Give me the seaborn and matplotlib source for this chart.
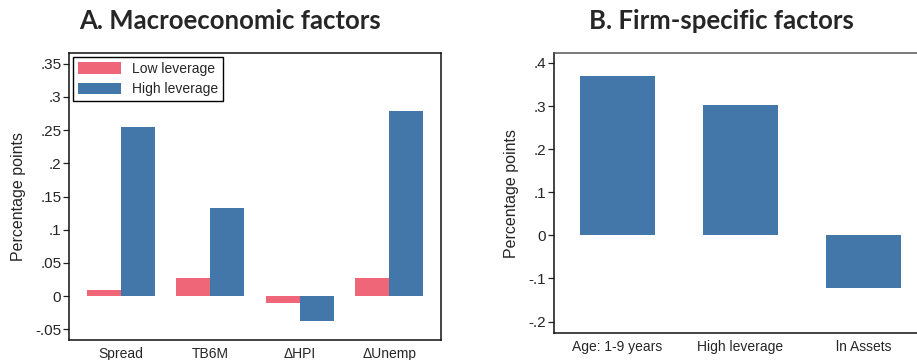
import pandas as pd
import matplotlib.pyplot as plt
import seaborn as sns

# panel A: macro factors, two leverage groups
macro_factors = ['Spread', 'TB6M', 'ΔHPI', 'ΔUnemp']
low_leverage = [0.009, 0.027, -0.010, 0.027]
high_leverage = [0.255, 0.133, -0.037, 0.279]
a_ticks = [-0.05, 0, 0.05, 0.1, 0.15, 0.2, 0.25, 0.3, 0.35]
a_ticklabels = ['-.05', '0', '.05', '.1', '.15', '.2', '.25', '.3', '.35']

# panel B: firm-specific factors
firm_factors = ['Age: 1-9 years', 'High leverage', 'ln Assets']
firm_effects = [0.370, 0.303, -0.121]
b_ticks = [-0.2, -0.1, 0, 0.1, 0.2, 0.3, 0.4]
b_ticklabels = ['-.2', '-.1', '0', '.1', '.2', '.3', '.4']

pink = '#EF6679'
blue = '#4477A9'

df_a = pd.DataFrame({
    'factor': macro_factors * 2,
    'value': low_leverage + high_leverage,
    'group': ['Low leverage'] * 4 + ['High leverage'] * 4,
})
df_b = pd.DataFrame({'factor': firm_factors, 'value': firm_effects})

sns.set_style('white')
plt.rcParams['font.family'] = ['Liberation Sans', 'DejaVu Sans']

W, H = 917, 360
fig = plt.figure(figsize=(W / 100, H / 100), dpi=100)
ax1 = fig.add_axes([69 / W, 1 - 340 / H, 372 / W, 287 / H])
ax2 = fig.add_axes([554 / W, 1 - 333 / H, 373 / W, 280 / H])

sns.barplot(data=df_a, x='factor', y='value', hue='group', ax=ax1,
            palette=[pink, blue], width=0.76, gap=0, saturation=1,
            edgecolor='none', linewidth=0)
sns.barplot(data=df_b, x='factor', y='value', ax=ax2, color=blue,
            width=0.604, saturation=1, edgecolor='none', linewidth=0)

ax1.set_xlim(-0.58, 3.58)
ax1.set_ylim(-0.066, 0.366)
ax2.set_xlim(-0.516, 2.516)
ax2.set_ylim(-0.2265, 0.423)

for ax, ticks, labels in [(ax1, a_ticks, a_ticklabels), (ax2, b_ticks, b_ticklabels)]:
    ax.set_yticks(ticks)
    ax.set_yticklabels(labels)
    ax.set_xlabel('')
    ax.set_ylabel('Percentage points', fontsize=11.5, labelpad=7)
    ax.tick_params(axis='y', left=True, length=4, width=0.9, color='#222222',
                   labelsize=11, pad=1.5, direction='out')
    ax.tick_params(axis='x', bottom=False, labelsize=10, pad=1.5)
    for s in ax.spines.values():
        s.set_color('#111111')
        s.set_linewidth(1.1)

ax2.spines['top'].set_color('#555555')

leg = ax1.legend(loc='upper left', fontsize=10, frameon=True, fancybox=False,
                 edgecolor='black', handlelength=3.1, handleheight=0.9,
                 borderaxespad=0.3, borderpad=0.35, labelspacing=0.45,
                 handletextpad=0.8)
leg.get_frame().set_linewidth(1.0)
leg.get_frame().set_alpha(1)
leg.set_title(None)

fig.text(230 / W, 1 - 21 / H, 'A. Macroeconomic factors', ha='center', va='center',
         fontsize=18.5, fontweight='bold', family='Lato')
fig.text(721 / W, 1 - 21 / H, 'B. Firm-specific factors', ha='center', va='center',
         fontsize=18.5, fontweight='bold', family='Lato')

fig.savefig('out.png', dpi=100)
